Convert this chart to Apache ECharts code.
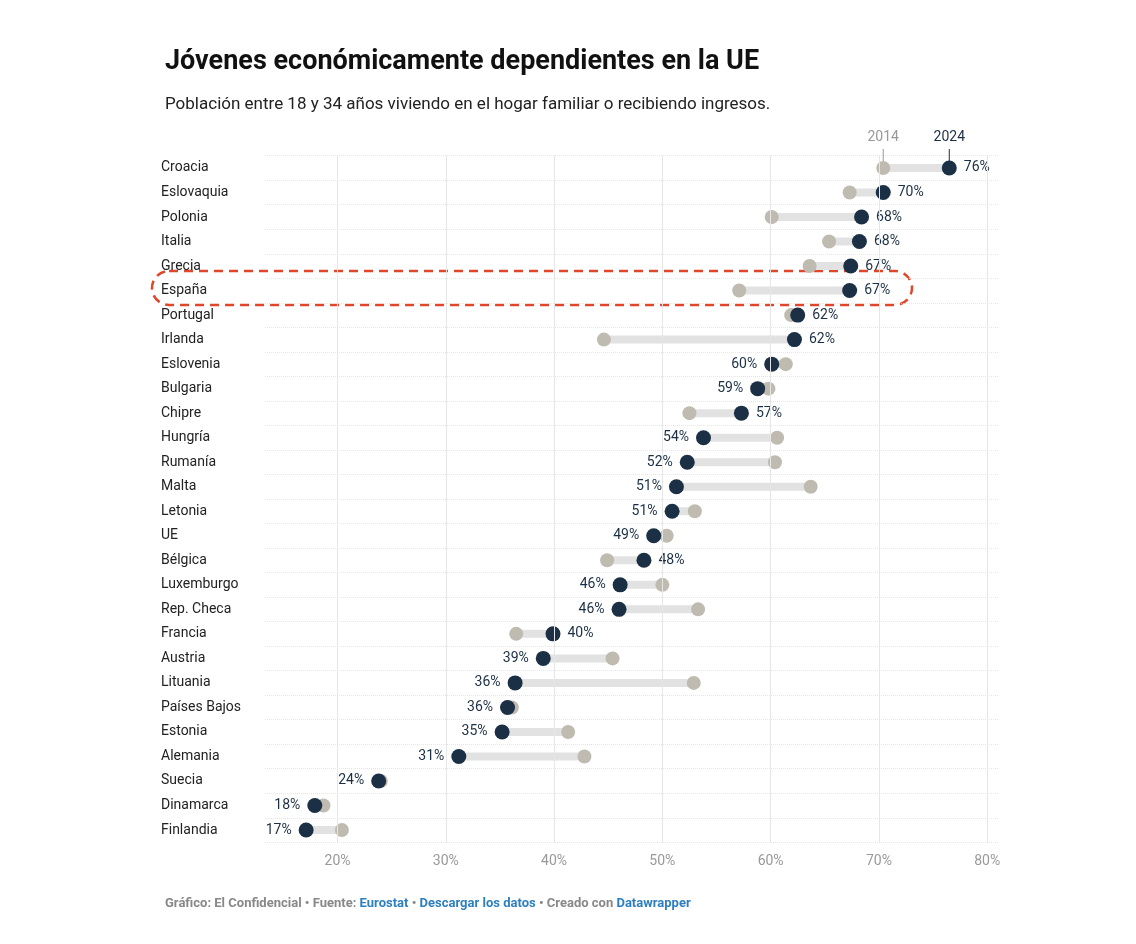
<!DOCTYPE html><html><head><meta charset="utf-8"><script src="https://cdn.jsdelivr.net/npm/echarts@6/dist/echarts.min.js"></script></head><body style="margin:0;background:#fff"><div id="c" style="width:1136px;height:944px"></div><script>
const countries=["Croacia","Eslovaquia","Polonia","Italia","Grecia","España","Portugal","Irlanda","Eslovenia","Bulgaria","Chipre","Hungría","Rumanía","Malta","Letonia","UE","Bélgica","Luxemburgo","Rep. Checa","Francia","Austria","Lituania","Países Bajos","Estonia","Alemania","Suecia","Dinamarca","Finlandia"];
const v2024=[76.5,70.4,68.4,68.2,67.4,67.3,62.5,62.2,60.1,58.8,57.3,53.8,52.3,51.3,50.9,49.2,48.3,46.1,46.0,39.9,39.0,36.4,35.7,35.2,31.2,23.8,17.9,17.1];
const v2014=[70.4,67.3,60.1,65.4,63.6,57.1,61.9,44.6,61.4,59.8,52.5,60.6,60.4,63.7,53.0,50.4,44.9,50.0,53.3,36.5,45.4,52.9,36.1,41.3,42.8,24.0,18.7,20.4];
const labels2024=["76%","70%","68%","68%","67%","67%","62%","62%","60%","59%","57%","54%","52%","51%","51%","49%","48%","46%","46%","40%","39%","36%","36%","35%","31%","24%","18%","17%"];
const xTicks=[20,30,40,50,60,70,80];
const ch=echarts.init(document.getElementById('c'));
const F='Roboto';
ch.setOption({
textStyle:{fontFamily:F},
title:[{text:'Jóvenes económicamente dependientes en la UE',left:160,top:44,textStyle:{fontSize:27,fontWeight:'bold',color:'#111',fontFamily:F}},
{text:'Población entre 18 y 34 años viviendo en el hogar familiar o recibiendo ingresos.',left:160,top:91,textStyle:{fontSize:17,fontWeight:'normal',color:'#222',fontFamily:F}},
{text:'{g|Gráfico: El Confidencial • Fuente: }{b|Eurostat}{g| • }{b|Descargar los datos}{g| • Creado con }{b|Datawrapper}',left:160,top:892,textStyle:{rich:{g:{color:'#888',fontSize:13,fontFamily:F},b:{color:'#2e7fc0',fontSize:13,fontFamily:F}}}}],
grid:{left:265,right:138,top:155.7,bottom:101.7},
xAxis:{type:'value',min:13.3,max:81,axisLine:{show:false},axisTick:{show:false},splitLine:{show:false},
axisLabel:{customValues:xTicks,formatter:v=>v+'%',color:'#999',fontSize:14,margin:12}},
yAxis:{type:'category',inverse:true,data:countries,axisLine:{show:false},axisTick:{show:false},
axisLabel:{align:'left',margin:104,color:'#222',fontSize:14},
splitLine:{show:true,lineStyle:{color:'#e6e6e6',type:'dotted'}}},
graphic:[{type:'rect',shape:{x:152,y:271,width:760,height:34,r:17},style:{fill:'none',stroke:'#e0472a',lineWidth:2.5,lineDash:[9,6]}}],
series:[
{type:'custom',renderItem:(p,api)=>{const a=api.coord([api.value(1),api.value(0)]),b=api.coord([api.value(2),api.value(0)]);return{type:'line',shape:{x1:a[0],y1:a[1],x2:b[0],y2:b[1]},style:{stroke:'#e2e2e2',lineWidth:8}}},
encode:{x:[1,2],y:0},data:countries.map((c,i)=>[i,v2014[i],v2024[i]]),silent:true,z:1,
markLine:{silent:true,symbol:'none',label:{show:false},lineStyle:{color:'#e6e6e6',type:'solid',width:1},data:xTicks.map(x=>({xAxis:x}))}},
{type:'scatter',symbolSize:14,itemStyle:{color:'#bfbbb0',opacity:1},data:countries.map((c,i)=>[v2014[i],c]),z:3,
markPoint:{symbol:'rect',symbolSize:[1,12],symbolOffset:[0,-13],itemStyle:{color:'#999'},label:{show:true,position:'top',formatter:'2014',color:'#999',fontSize:14,distance:4},data:[{coord:[v2014[0],countries[0]]}]}},
{type:'scatter',symbolSize:15,itemStyle:{color:'#1b2f45',opacity:1},z:4,
data:countries.map((c,i)=>({value:[v2024[i],c],label:{show:true,formatter:labels2024[i],position:v2024[i]>=v2014[i]?'right':'left',distance:7,color:'#1b2f45',fontSize:14}})),
markPoint:{symbol:'rect',symbolSize:[1,12],symbolOffset:[0,-13],itemStyle:{color:'#1b2f45'},label:{show:true,position:'top',formatter:'2024',color:'#1b2f45',fontSize:14,distance:4},data:[{coord:[v2024[0],countries[0]]}]}}
]});
</script></body></html>
